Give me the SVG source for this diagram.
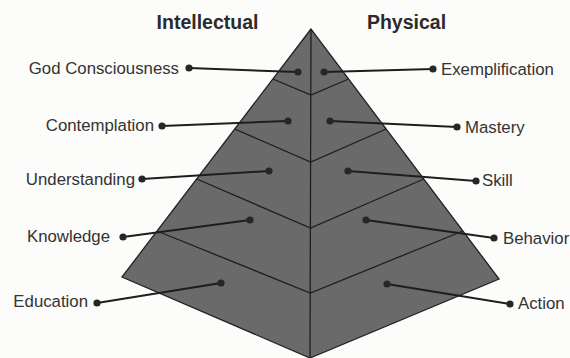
<svg xmlns="http://www.w3.org/2000/svg" width="570" height="358" viewBox="0 0 570 358">
  <style>
    .title { font-family: "Liberation Sans", Arial, sans-serif; font-weight: bold; font-size: 19.5px; fill: #2b2b2b; text-anchor: middle; }
    .lbl { font-family: "Liberation Sans", Arial, sans-serif; font-size: 16.8px; fill: #333333; }
    .l { text-anchor: end; }
    .r { text-anchor: start; }
    .pyr { fill: #6a6a6a; stroke: #222222; stroke-width: 1.3; stroke-linejoin: miter; }
    .band { fill: none; stroke: #1e1e1e; stroke-width: 1.3; }
    .con { stroke: #1e1e1e; stroke-width: 2; fill: none; }
    .dot { fill: #262626; }
  </style>
  <rect width="570" height="358" fill="#fcfcfa"/>

  <g id="pyramid">
    <polygon class="pyr" points="311,29 122,277 310,358 499,279"/>
    <line class="band" x1="311" y1="29" x2="310" y2="358"/>
    <polyline class="band" points="272.9,79 311,95 348.6,79"/>
    <polyline class="band" points="234.8,129 310.7,162 386.2,129"/>
    <polyline class="band" points="196.7,179 310.5,228 423.8,179"/>
    <polyline class="band" points="157,231 310.3,293 462.9,231"/>
  </g>

  <g id="titles">
    <text class="title" x="207.5" y="29">Intellectual</text>
    <text class="title" x="406.5" y="29">Physical</text>
  </g>

  <g id="connectors">
    <line class="con" x1="189" y1="68" x2="298" y2="72"/>
    <line class="con" x1="162" y1="126" x2="288" y2="121"/>
    <line class="con" x1="142" y1="179" x2="269" y2="171"/>
    <line class="con" x1="123" y1="237" x2="250" y2="220"/>
    <line class="con" x1="97" y1="303" x2="221" y2="283"/>
    <line class="con" x1="433" y1="69" x2="324" y2="72"/>
    <line class="con" x1="457" y1="127" x2="330" y2="121"/>
    <line class="con" x1="476" y1="181" x2="348" y2="171"/>
    <line class="con" x1="494" y1="238" x2="366" y2="220"/>
    <line class="con" x1="510" y1="304" x2="387" y2="284"/>
  </g>

  <g id="god-consciousness">
    <circle class="dot" cx="189" cy="68" r="3.6"/><circle class="dot" cx="298" cy="72" r="3.6"/>
    <text class="lbl l" x="179" y="74">God Consciousness</text>
  </g>
  <g id="contemplation">
    <circle class="dot" cx="162" cy="126" r="3.6"/><circle class="dot" cx="288" cy="121" r="3.6"/>
    <text class="lbl l" x="154" y="131">Contemplation</text>
  </g>
  <g id="understanding">
    <circle class="dot" cx="142" cy="179" r="3.6"/><circle class="dot" cx="269" cy="171" r="3.6"/>
    <text class="lbl l" x="135" y="185">Understanding</text>
  </g>
  <g id="knowledge">
    <circle class="dot" cx="123" cy="237" r="3.6"/><circle class="dot" cx="250" cy="220" r="3.6"/>
    <text class="lbl l" x="110" y="242">Knowledge</text>
  </g>
  <g id="education">
    <circle class="dot" cx="97" cy="303" r="3.6"/><circle class="dot" cx="221" cy="283" r="3.6"/>
    <text class="lbl l" x="88" y="307">Education</text>
  </g>

  <g id="exemplification">
    <circle class="dot" cx="433" cy="69" r="3.6"/><circle class="dot" cx="324" cy="72" r="3.6"/>
    <text class="lbl r" x="441" y="75">Exemplification</text>
  </g>
  <g id="mastery">
    <circle class="dot" cx="457" cy="127" r="3.6"/><circle class="dot" cx="330" cy="121" r="3.6"/>
    <text class="lbl r" x="465" y="133">Mastery</text>
  </g>
  <g id="skill">
    <circle class="dot" cx="476" cy="181" r="3.6"/><circle class="dot" cx="348" cy="171" r="3.6"/>
    <text class="lbl r" x="482" y="186">Skill</text>
  </g>
  <g id="behavior">
    <circle class="dot" cx="494" cy="238" r="3.6"/><circle class="dot" cx="366" cy="220" r="3.6"/>
    <text class="lbl r" x="503" y="244">Behavior</text>
  </g>
  <g id="action">
    <circle class="dot" cx="510" cy="304" r="3.6"/><circle class="dot" cx="387" cy="284" r="3.6"/>
    <text class="lbl r" x="518" y="309">Action</text>
  </g>
</svg>
